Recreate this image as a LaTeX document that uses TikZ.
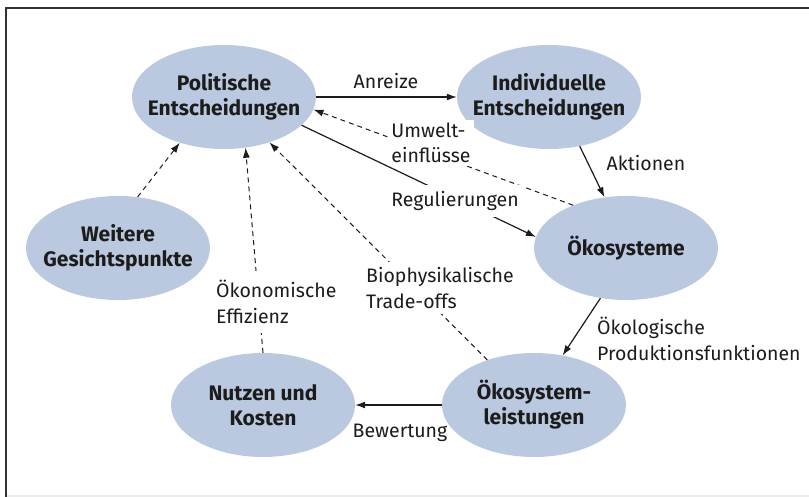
\documentclass[tikz,border=0pt]{standalone}
\usepackage{fontspec}
\setmainfont{Fira Sans}
\usetikzlibrary{shapes.geometric,arrows.meta}
\definecolor{ellfill}{RGB}{187,201,224}
\definecolor{txt}{RGB}{28,28,28}
\definecolor{framec}{RGB}{50,50,50}
\begin{document}
\begin{tikzpicture}[x=1pt,y=-1pt,
  ell/.style={ellipse, fill=ellfill, minimum width=184pt, minimum height=104pt, inner sep=-30pt, align=center, font=\fontsize{21}{25}\selectfont\bfseries, text=txt},
  lab/.style={font=\fontsize{19.5}{25.5}\selectfont, text=txt, inner sep=1pt},
  solidarrow/.style={draw=txt, line width=1.2pt, -{Latex[length=10pt,width=7pt]}},
  dasharrow/.style={draw=txt, line width=1pt, dash pattern=on 5pt off 4pt, -{Latex[length=10pt,width=7pt]}}
]
\fill[white] (0,0) rectangle (809,497);
\useasboundingbox (0,0) rectangle (809,497);
\fill[black!8] (6,495) rectangle (809,497);
\draw[framec, line width=1.5pt] (6,497) -- (6,8) -- (809,8);

\node[ell] (pol) at (224,97) {Politische\\Entscheidungen};
\node[ell] (ind) at (549,97) {Individuelle\\Entscheidungen};
\node[ell] (oek) at (626,248) {Ökosysteme};
\node[ell] (lei) at (534,405) {Ökosystem-\\leistungen};
\node[ell] (nut) at (263,405) {Nutzen und\\Kosten};
\node[ell] (wei) at (118,248) {Weitere\\Gesichtspunkte};

\draw[solidarrow] (pol.east) -- (ind.west);
\draw[solidarrow] (pol.-20) -- (oek.173);
\draw[dasharrow] (oek.141) -- (pol.-8);
\draw[solidarrow] (ind.-58) -- (oek.113);
\draw[solidarrow] (oek.-117) -- (lei.60);
\draw[solidarrow] (lei.west) -- (nut.east);
\draw[dasharrow] (lei.136) -- (pol.-45);
\draw[dasharrow] (nut.90) -- (pol.-67);
\draw[dasharrow] (wei.69) -- (pol.-134);

\node[lab] (lanr) at (386,81) {Anreize};
\node[lab, fill=white, inner sep=3pt, align=left] (lumw) at (431,143) {Umwelt-\\einflüsse};
\node[lab] (lakt) at (646,163) {Aktionen};
\node[lab, fill=white, inner sep=6pt] (lreg) at (455,201) {Regulierungen};
\node[lab, fill=white, inner sep=6pt, align=left, anchor=west] (lbio) at (360,288) {Biophysikalische\\Trade-offs};
\node[lab, fill=white, inner ysep=9pt, inner xsep=2pt, align=left, anchor=west] (leff) at (214,302) {Ökonomische\\Effizienz};
\node[lab, align=left, anchor=west] (lpro) at (596,339) {Ökologische\\Produktionsfunktionen};
\node[lab] (lbew) at (400,433) {Bewertung};
\end{tikzpicture}
\end{document}
